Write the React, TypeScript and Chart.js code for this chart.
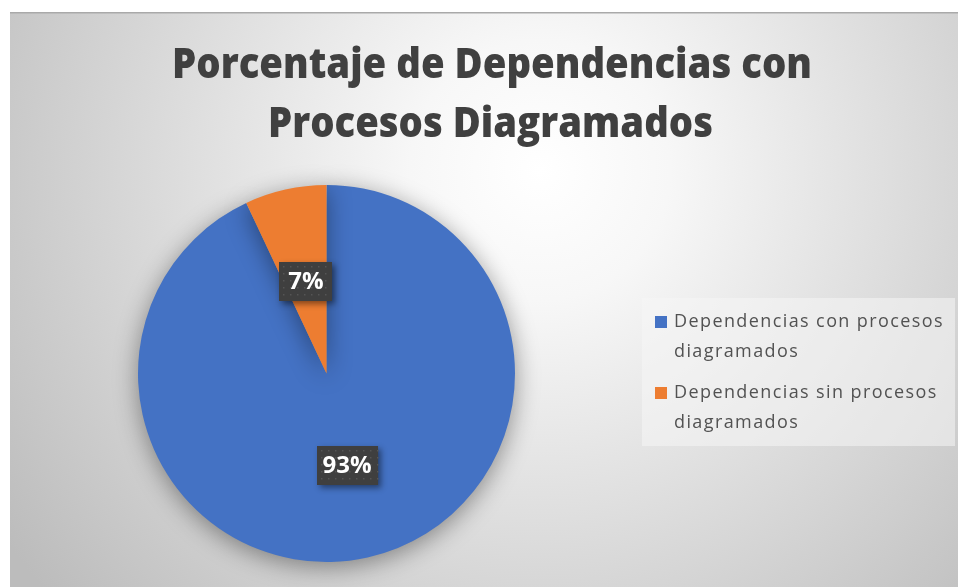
import React, { useEffect, useRef } from "react";
import { Chart, registerables } from "chart.js";

Chart.register(...registerables);

const categories = [
  "Dependencias con procesos diagramados",
  "Dependencias sin procesos diagramados",
];
const legendLines = [
  ["Dependencias con procesos", "diagramados"],
  ["Dependencias sin procesos", "diagramados"],
];
const values = [93, 7];
const colors = ["#4472C4", "#ED7D31"];
const titleLines = ["Porcentaje de Dependencias con", "Procesos Diagramados"];

const W = 958;
const H = 587;

const backgroundPlugin = {
  id: "bgPlugin",
  beforeDraw(chart: any) {
    const ctx = chart.ctx as CanvasRenderingContext2D;
    ctx.save();
    ctx.fillStyle = "#ffffff";
    ctx.fillRect(0, 0, W, H);
    const g = ctx.createRadialGradient(540, 170, 0, 540, 170, 650);
    g.addColorStop(0, "#ffffff");
    g.addColorStop(0.2, "#f7f7f7");
    g.addColorStop(1, "#bcbcbc");
    ctx.fillStyle = g;
    ctx.fillRect(10, 12, W - 10, H - 12);
    ctx.fillStyle = "#a9a9a9";
    ctx.fillRect(10, 12, W - 10, 1.5);

    // title
    ctx.fillStyle = "#404040";
    ctx.font = '800 43px "Open Sans"';
    ctx.textAlign = "center";
    ctx.textBaseline = "alphabetic";
    const targets = [
      { cx: 492, base: 78, w: 640 },
      { cx: 490.5, base: 137, w: 445 },
    ];
    titleLines.forEach((t, i) => {
      const m = ctx.measureText(t).width;
      const sx = targets[i].w / m;
      ctx.save();
      ctx.translate(targets[i].cx, targets[i].base);
      ctx.scale(sx, 1);
      ctx.fillText(t, 0, 0);
      ctx.restore();
    });

    // legend
    ctx.fillStyle = "rgba(245,245,245,0.55)";
    ctx.fillRect(642, 298, 313, 148);
    const items = chart.data.labels.length;
    for (let i = 0; i < items; i++) {
      const y0 = 322 + i * 71;
      ctx.fillStyle = chart.data.datasets[0].backgroundColor[i];
      ctx.fillRect(655, y0 - 6, 12, 12);
      ctx.fillStyle = "#525252";
      ctx.font = '18px "Open Sans"';
      ctx.textAlign = "left";
      ctx.textBaseline = "middle";
      (ctx as any).letterSpacing = "1.4px";
      legendLines[i].forEach((ln, j) => {
        ctx.fillText(ln, 674, y0 + j * 29.5);
      });
      (ctx as any).letterSpacing = "0px";
    }
    ctx.restore();
  },
  beforeDatasetsDraw(chart: any) {
    const ctx = chart.ctx as CanvasRenderingContext2D;
    ctx.save();
    ctx.shadowColor = "rgba(0,0,0,0.4)";
    ctx.shadowBlur = 24;
    ctx.shadowOffsetX = 0;
    ctx.shadowOffsetY = 5;
  },
  afterDatasetsDraw(chart: any) {
    const ctx = chart.ctx as CanvasRenderingContext2D;
    ctx.restore();
    const meta = chart.getDatasetMeta(0);
    const data = chart.data.datasets[0].data as number[];
    const total = data.reduce((a, b) => a + b, 0);
    meta.data.forEach((arc: any, i: number) => {
      const pos = arc.tooltipPosition();
      const label = Math.round((data[i] / total) * 100) + "%";
      ctx.save();
      ctx.font = 'bold 24px "Open Sans"';
      const tw = ctx.measureText(label).width;
      const bw = Math.max(tw + 12, 53);
      const bh = 39;
      const x = Math.round(pos.x - bw / 2);
      const y = Math.round(pos.y - bh / 2);
      ctx.shadowColor = "rgba(0,0,0,0.45)";
      ctx.shadowBlur = 6;
      ctx.shadowOffsetX = 3;
      ctx.shadowOffsetY = 3;
      ctx.fillStyle = "#3f3f3f";
      ctx.fillRect(x, y, bw, bh);
      ctx.shadowColor = "transparent";
      ctx.fillStyle = "#555555";
      for (let yy = y + 4; yy < y + bh - 1; yy += 7) {
        for (let xx = x + 4; xx < x + bw - 1; xx += 7) {
          ctx.fillRect(xx, yy, 1.5, 1.5);
        }
      }
      ctx.fillStyle = "#ffffff";
      ctx.textAlign = "center";
      ctx.textBaseline = "middle";
      ctx.fillText(label, pos.x, pos.y + 1);
      ctx.restore();
    });
  },
};

export default function App() {
  const ref = useRef<HTMLCanvasElement | null>(null);
  useEffect(() => {
    if (!ref.current) return;
    const chart = new Chart(ref.current, {
      type: "pie",
      data: {
        labels: categories,
        datasets: [
          {
            data: values,
            backgroundColor: colors,
            borderWidth: 0,
          },
        ],
      },
      options: {
        responsive: false,
        animation: false,
        devicePixelRatio: 1,
        layout: {
          padding: { top: 185, bottom: 25, left: 138, right: 443 },
        },
        plugins: {
          legend: { display: false },
          title: { display: false },
          tooltip: { enabled: false },
        },
      },
      plugins: [backgroundPlugin],
    });
    return () => chart.destroy();
  }, []);
  return (
    <div style={{ position: "fixed", left: 0, top: 0, width: W, height: H }}>
      <canvas ref={ref} width={W} height={H} style={{ display: "block" }} />
    </div>
  );
}
